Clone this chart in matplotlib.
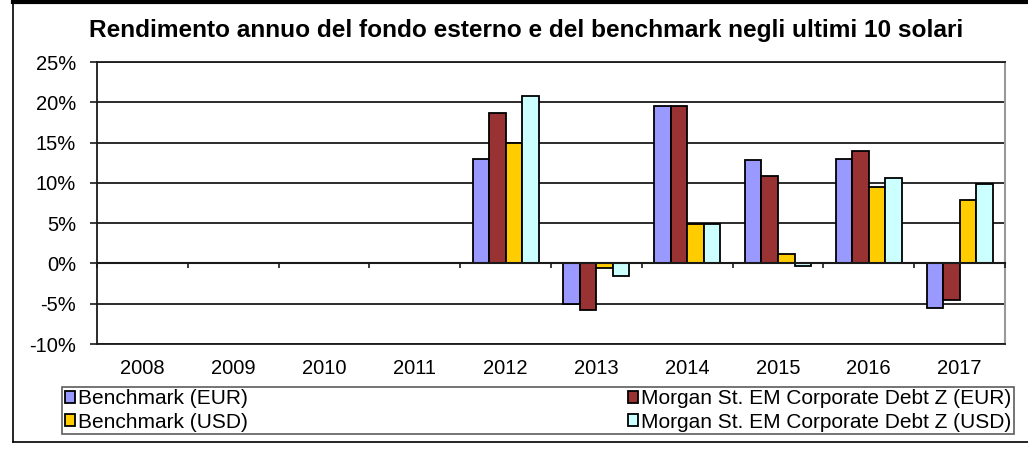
import numpy as np
import matplotlib
matplotlib.use("Agg")
import matplotlib.pyplot as plt
from matplotlib.lines import Line2D

plt.rcParams['font.family'] = ['Liberation Sans', 'DejaVu Sans']

title = "Rendimento annuo del fondo esterno e del benchmark negli ultimi 10 solari"
years = ["2008", "2009", "2010", "2011", "2012", "2013", "2014", "2015", "2016", "2017"]
series_names = ["Benchmark (EUR)", "Morgan St. EM Corporate Debt Z (EUR)",
                "Benchmark (USD)", "Morgan St. EM Corporate Debt Z (USD)"]
bench_eur = [np.nan, np.nan, np.nan, np.nan, 13.0, -5.0, 19.6, 12.8, 12.9, -5.5]
ms_eur = [np.nan, np.nan, np.nan, np.nan, 18.7, -5.8, 19.6, 10.9, 14.0, -4.5]
bench_usd = [np.nan, np.nan, np.nan, np.nan, 15.0, -0.6, 4.9, 1.2, 9.5, 7.9]
ms_usd = [np.nan, np.nan, np.nan, np.nan, 20.8, -1.5, 4.9, -0.3, 10.6, 9.9]
colors = ["#9999FF", "#993333", "#FFCC00", "#CCFFFF"]
yticks = [-10, -5, 0, 5, 10, 15, 20, 25]

W, H = 1028, 455
fig = plt.figure(figsize=(W / 100, H / 100), dpi=100)
ax = fig.add_axes([97 / W, 1 - 344 / H, (1005 - 97) / W, (344 - 62) / H])

x = np.arange(len(years))
bw = 0.182
data = [bench_eur, ms_eur, bench_usd, ms_usd]
bars = []
for i, (vals, c) in enumerate(zip(data, colors)):
    b = ax.bar(x + (i - 1.5) * bw, vals, bw, color=c, edgecolor="black",
               linewidth=1.3, zorder=3, label=series_names[i])
    bars.append(b)

fs = 14.5
ax.set_xlim(-0.5, len(years) - 0.5)
ax.set_ylim(-10, 25)
ax.set_yticks(yticks)
ax.set_yticklabels([f"{v}%" for v in yticks], fontsize=fs)
ax.set_xticks(x)
ax.set_xticklabels(years, fontsize=fs)
ax.tick_params(axis="x", length=0, pad=11)
ax.tick_params(axis="y", length=5, width=1.2, direction="out", pad=10, color="#1a1a1a")
ax.yaxis.grid(True, color="#1a1a1a", linewidth=1.3, zorder=0)
ax.set_axisbelow(True)
for s in ["left", "bottom", "top"]:
    ax.spines[s].set_color("#1a1a1a")
    ax.spines[s].set_linewidth(1.3)
ax.spines["right"].set_color("#999999")
ax.spines["right"].set_linewidth(1.5)

# category axis at zero with tick marks between categories
ax2 = ax.twiny()
ax2.set_xlim(ax.get_xlim())
ax2.set_xticks(np.arange(len(years) + 1) - 0.5)
ax2.set_xticklabels([])
ax2.xaxis.set_ticks_position("bottom")
ax2.spines["bottom"].set_position(("data", 0))
ax2.spines["bottom"].set_linewidth(1.5)
ax2.spines["bottom"].set_color("#1a1a1a")
for s in ["left", "right", "top"]:
    ax2.spines[s].set_visible(False)
ax2.tick_params(axis="x", direction="out", length=3.6, width=1.2, color="#1a1a1a")

fig.text(0.512, 1 - 30 / H, title, ha="center", va="center",
         fontsize=17.6, fontweight="bold")

handles = [bars[0], bars[2], bars[1], bars[3]]
labels = [series_names[0], series_names[2], series_names[1], series_names[3]]
leg = fig.legend(handles, labels, loc="lower left",
                 bbox_to_anchor=(62 / W, 1 - 434 / H, (1014 - 62) / W, (434 - 379) / H),
                 mode="expand", ncol=2, fontsize=15, frameon=True, fancybox=False,
                 borderaxespad=0, handlelength=0.5, handleheight=0.5, handletextpad=0.15,
                 labelspacing=0.2, borderpad=0.12, columnspacing=1.0)
leg.get_frame().set_edgecolor("#333333")
leg.get_frame().set_linewidth(1.2)

# outer frame lines
fig.add_artist(Line2D([13 / W, 1], [1 - 2 / H, 1 - 2 / H], color="black", linewidth=3,
                      transform=fig.transFigure))
fig.add_artist(Line2D([13 / W, 13 / W], [1 - 2 / H, 1 - 442 / H], color="black", linewidth=1.2,
                      transform=fig.transFigure))
fig.add_artist(Line2D([13 / W, 1], [1 - 442 / H, 1 - 442 / H], color="black", linewidth=1.2,
                      transform=fig.transFigure))

fig.savefig("out.png", dpi=100)
